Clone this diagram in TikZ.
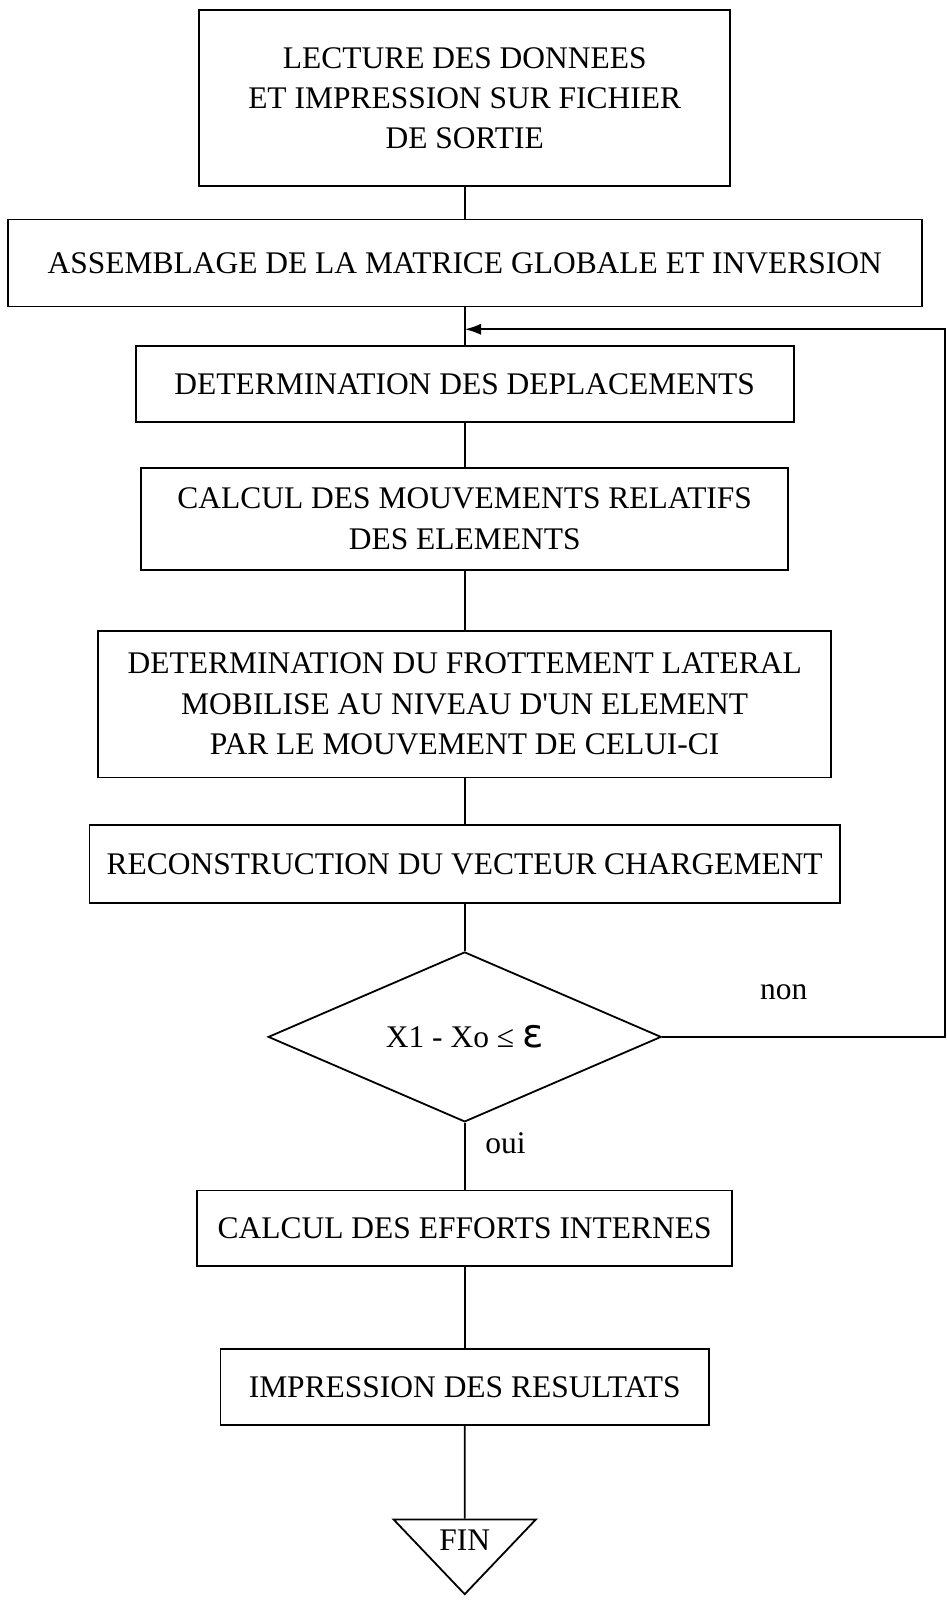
\documentclass[tikz,border=0pt]{standalone}
\usepackage{fontspec}
\setmainfont{Liberation Serif}
\newfontfamily\epsfont{DejaVu Sans}
\usetikzlibrary{shapes.geometric, positioning, arrows.meta, calc}
\tikzset{
  process/.style={rectangle, text centered, align=center, draw=black, line width=1pt},
  decision/.style={diamond, aspect=2.3, minimum width=7.68cm, minimum height=3.32cm, text centered, draw=black, line width=1pt},
  terminal/.style={isosceles triangle, isosceles triangle apex angle=87, isosceles triangle stretches, shape border rotate=270, minimum width=2.78cm, minimum height=1.46cm, inner sep=1pt, draw=black, line width=1pt},
  line/.style={line width=1pt},
  arrow/.style={line width=1pt,-{Latex[length=3.2mm, width=2.2mm]}}
}

\begin{document}
\begin{tikzpicture}[node distance=3cm, every node/.style={font=\fontsize{17.5}{22.5}\selectfont}]
  \useasboundingbox (-9.08,1.92) rectangle (9.42,-29.44);
  \node (lect) [process, minimum width=10.38cm, minimum height=3.44cm] {LECTURE DES DONNEES\\ET IMPRESSION SUR FICHIER\\DE SORTIE};
  \node (assem) [process, below of=lect, yshift=-0.22cm, minimum width=17.86cm, minimum height=1.7cm] {ASSEMBLAGE DE LA MATRICE GLOBALE ET INVERSION};
  \node (depl) [process, below of=assem, yshift=0.64cm, minimum width=12.86cm, minimum height=1.48cm] {DETERMINATION DES DEPLACEMENTS};
  \node (mouv) [process, below of=depl, yshift=0.36cm, minimum width=12.64cm, minimum height=2cm] {CALCUL DES MOUVEMENTS RELATIFS\\DES ELEMENTS};
  \node (frot) [process, below of=mouv, yshift=-0.62cm, minimum width=14.32cm, minimum height=2.86cm] {DETERMINATION DU FROTTEMENT LATERAL\\MOBILISE AU NIVEAU D\textquotesingle{}UN ELEMENT\\PAR LE MOUVEMENT DE CELUI-CI};
  \node (recon) [process, below of=frot, yshift=-0.12cm, minimum width=14.66cm, minimum height=1.52cm] {RECONSTRUCTION DU VECTEUR CHARGEMENT};
  \node (test) [decision, below of=recon, yshift=-0.38cm] {X1 - Xo ≤ {\epsfont\fontsize{22}{22}\selectfont ε}};
  \node (effort) [process, below of=test, yshift=-0.74cm, minimum width=10.46cm, minimum height=1.48cm] {CALCUL DES EFFORTS INTERNES};
  \node (impr) [process, below of=effort, yshift=-0.1cm, minimum width=9.54cm, minimum height=1.48cm] {IMPRESSION DES RESULTATS};
  \node (fin) [terminal, below of=impr, yshift=0cm] {FIN};

  % point d'arrivee du retour
  \coordinate (retour) at ($(assem.south)!0.58!(depl.north)$);

  \draw [line] (lect) -- (assem);
  \draw [line] (assem) -- (depl);
  \draw [line] (depl) -- (mouv);
  \draw [line] (mouv) -- (frot);
  \draw [line] (frot) -- (recon);
  \draw [line] (recon) -- (test);
  \draw [line] (test) -- node[right, pos=0.3, xshift=0.27cm] {oui} (effort);
  \draw [line] (effort) -- (impr);
  \draw [line] (impr) -- (fin);
  \draw [arrow] (test.east) -- node[above, pos=0.43, yshift=0.6cm] {non} ++(5.52,0) |- (retour);
\end{tikzpicture}
\end{document}
